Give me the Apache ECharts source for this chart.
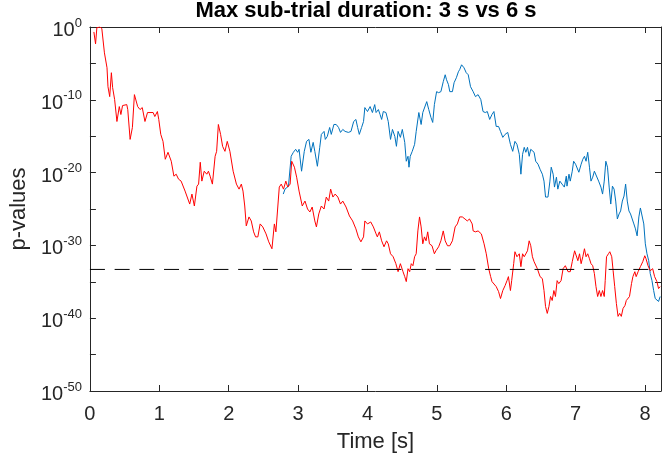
<!DOCTYPE html>
<html><head><meta charset="utf-8">
<script src="https://cdn.jsdelivr.net/npm/echarts@6/dist/echarts.min.js"></script>
<style>html,body{margin:0;padding:0;background:#fff}#c{width:664px;height:458px}</style>
</head><body><div id="c"></div>
<script>
// Red series (3 s): time [s] and log10(p)
const redT = [0.057,0.081,0.100,0.142,0.171,0.209,0.246,0.260,0.285,0.309,0.327,0.356,0.389,0.423,0.446,0.470,0.531,0.545,0.579,0.612,0.641,0.688,0.722,0.754,0.793,0.830,0.911,0.935,0.972,0.992,1.021,1.053,1.086,1.125,1.172,1.210,1.243,1.277,1.314,1.371,1.399,1.438,1.470,1.505,1.542,1.566,1.590,1.613,1.647,1.684,1.708,1.732,1.765,1.804,1.826,1.851,1.883,1.912,1.946,1.979,2.017,2.064,2.111,2.149,2.182,2.206,2.231,2.253,2.292,2.325,2.359,2.387,2.420,2.453,2.491,2.515,2.538,2.577,2.595,2.623,2.658,2.680,2.729,2.757,2.790,2.823,2.851,2.885,2.908,2.947,2.979,3.014,3.060,3.099,3.136,3.170,3.203,3.241,3.264,3.298,3.335,3.374,3.406,3.441,3.469,3.502,3.534,3.573,3.611,3.644,3.691,3.740,3.786,3.833,3.868,3.905,3.943,3.962,4.000,4.047,4.085,4.124,4.142,4.171,4.204,4.238,4.275,4.299,4.332,4.370,4.409,4.441,4.474,4.512,4.537,4.559,4.584,4.608,4.631,4.655,4.679,4.702,4.726,4.750,4.773,4.797,4.821,4.844,4.868,4.893,4.930,4.964,4.986,5.025,5.058,5.092,5.120,5.153,5.186,5.224,5.263,5.295,5.328,5.367,5.405,5.438,5.470,5.509,5.523,5.556,5.594,5.641,5.680,5.712,5.747,5.775,5.794,5.822,5.855,5.889,5.917,5.950,5.983,6.011,6.031,6.060,6.078,6.107,6.125,6.154,6.188,6.211,6.235,6.259,6.282,6.306,6.330,6.353,6.377,6.401,6.424,6.448,6.487,6.520,6.544,6.566,6.591,6.615,6.638,6.662,6.686,6.709,6.733,6.757,6.790,6.819,6.851,6.890,6.922,6.951,6.985,7.008,7.032,7.056,7.079,7.103,7.127,7.150,7.174,7.199,7.221,7.246,7.270,7.293,7.317,7.341,7.364,7.388,7.412,7.426,7.445,7.473,7.492,7.520,7.540,7.563,7.587,7.611,7.634,7.658,7.683,7.711,7.730,7.758,7.776,7.805,7.825,7.853,7.872,7.900,7.933,7.967,7.996,8.014,8.043,8.075,8.110,8.138,8.171,8.195,8.218];
const redE = [-0.68,-2.32,-0.10,0,-0.2,-3.55,-5.60,-8.20,-9.56,-6.28,-8.33,-9.97,-12.98,-10.93,-12.02,-10.79,-10.66,-11.34,-15.44,-13.80,-9.29,-10.93,-11.34,-11.07,-12.98,-11.75,-11.75,-12.30,-11.61,-12.70,-14.75,-15.71,-18.17,-17.21,-18.44,-20.49,-20.22,-20.90,-21.17,-22.54,-22.68,-24.32,-22.95,-24.59,-21.86,-21.58,-18.58,-21.17,-19.81,-20.22,-19.81,-20.49,-21.58,-17.76,-17.08,-13.39,-14.75,-16.39,-17.08,-15.71,-17.08,-19.81,-21.58,-22.27,-21.58,-22.54,-24.59,-27.32,-26.09,-26.64,-28.14,-28.83,-28.83,-27.05,-27.46,-27.32,-28.42,-29.51,-29.78,-30.46,-27.05,-28.14,-21.99,-21.58,-22.27,-21.17,-21.99,-21.58,-18.44,-19.26,-20.63,-22.54,-24.59,-23.91,-25.00,-25.41,-24.73,-26.64,-27.46,-25.68,-24.59,-25.00,-23.36,-23.91,-22.27,-23.36,-22.95,-23.36,-24.32,-23.91,-24.73,-25.96,-26.64,-27.73,-28.83,-29.51,-28.83,-26.64,-27.05,-26.78,-27.46,-28.42,-28.83,-28.14,-29.37,-30.19,-29.37,-29.78,-31.15,-31.56,-32.51,-33.61,-32.51,-33.61,-34.29,-34.97,-33.20,-33.61,-32.51,-32.79,-31.56,-31.15,-28.01,-26.09,-27.46,-29.78,-28.83,-29.37,-28.14,-29.78,-30.05,-31.15,-30.74,-30.19,-29.37,-28.01,-29.37,-30.05,-30.05,-29.37,-27.46,-27.05,-26.09,-26.09,-26.37,-26.64,-26.37,-27.05,-28.01,-28.14,-28.01,-28.42,-29.78,-31.15,-33.20,-34.29,-34.97,-34.84,-35.66,-36.34,-37.30,-36.20,-35.52,-34.84,-34.29,-36.20,-34.84,-32.51,-30.87,-31.56,-31.15,-32.92,-31.15,-31.56,-31.56,-30.74,-29.37,-30.05,-31.56,-32.24,-32.24,-33.20,-34.29,-34.56,-36.20,-38.39,-39.34,-38.39,-37.02,-37.57,-36.20,-37.02,-34.84,-35.25,-34.84,-33.20,-32.79,-33.61,-33.61,-32.24,-30.74,-30.87,-32.10,-31.15,-32.51,-31.56,-30.46,-31.56,-31.15,-31.83,-32.51,-32.79,-33.88,-35.66,-37.02,-36.20,-37.02,-36.20,-37.02,-34.84,-31.56,-31.15,-30.87,-31.56,-33.47,-35.66,-37.98,-39.75,-39.34,-39.75,-38.66,-38.25,-37.57,-37.30,-37.02,-35.25,-34.29,-33.61,-34.29,-33.61,-32.92,-32.24,-31.42,-31.83,-32.79,-33.47,-33.20,-34.29,-34.97,-35.93,-35.66];
// Blue series (6 s)
const blueT = [2.786,2.811,2.833,2.861,2.900,2.932,2.965,2.994,3.014,3.050,3.089,3.122,3.156,3.184,3.217,3.241,3.278,3.312,3.335,3.374,3.392,3.421,3.455,3.478,3.516,3.549,3.583,3.611,3.644,3.677,3.725,3.762,3.801,3.833,3.858,3.882,3.915,3.943,3.962,4.000,4.038,4.071,4.104,4.124,4.157,4.181,4.204,4.228,4.266,4.299,4.332,4.360,4.394,4.417,4.441,4.474,4.502,4.537,4.559,4.584,4.598,4.616,4.645,4.679,4.702,4.740,4.773,4.797,4.821,4.854,4.883,4.915,4.940,4.964,4.996,5.025,5.058,5.092,5.120,5.139,5.167,5.186,5.224,5.248,5.281,5.310,5.328,5.356,5.391,5.423,5.452,5.485,5.523,5.556,5.594,5.633,5.665,5.698,5.727,5.761,5.794,5.822,5.855,5.889,5.917,5.950,5.983,6.021,6.060,6.093,6.125,6.154,6.188,6.211,6.235,6.259,6.282,6.306,6.330,6.353,6.377,6.401,6.424,6.458,6.487,6.520,6.544,6.566,6.601,6.629,6.648,6.676,6.695,6.723,6.743,6.772,6.804,6.837,6.865,6.875,6.904,6.922,6.951,6.971,6.999,7.018,7.046,7.079,7.103,7.127,7.150,7.174,7.199,7.221,7.246,7.270,7.293,7.331,7.364,7.388,7.412,7.435,7.459,7.483,7.506,7.530,7.554,7.577,7.601,7.626,7.648,7.673,7.697,7.720,7.744,7.768,7.791,7.815,7.839,7.862,7.886,7.911,7.933,7.957,7.982,8.004,8.028,8.053,8.075,8.100,8.124,8.147,8.171,8.195,8.218];
const blueE = [-22.95,-22.27,-22.54,-21.86,-17.76,-17.21,-16.80,-17.21,-16.80,-19.81,-17.08,-15.71,-15.44,-17.21,-15.85,-17.08,-19.13,-16.53,-14.75,-14.34,-15.44,-15.03,-13.80,-14.75,-13.39,-13.39,-13.80,-14.48,-14.07,-14.34,-14.48,-14.34,-12.98,-12.70,-13.80,-14.75,-13.80,-12.98,-11.07,-11.61,-10.93,-11.75,-10.66,-11.75,-11.34,-12.02,-12.70,-11.61,-11.75,-12.98,-15.44,-14.07,-15.03,-16.39,-14.34,-15.16,-14.07,-15.85,-18.44,-17.76,-19.26,-17.76,-17.08,-16.12,-14.34,-11.75,-13.39,-11.75,-12.02,-10.25,-11.34,-12.43,-13.11,-10.66,-8.88,-9.02,-8.88,-7.51,-6.56,-7.24,-7.92,-8.88,-8.88,-7.65,-6.97,-6.15,-5.87,-5.19,-5.60,-6.28,-6.56,-8.20,-8.88,-9.56,-9.29,-9.97,-11.61,-11.75,-11.61,-12.70,-12.02,-11.61,-13.66,-13.66,-14.34,-15.16,-14.75,-14.48,-16.12,-17.08,-15.71,-16.12,-17.49,-20.22,-17.49,-16.53,-17.21,-16.53,-17.76,-16.80,-16.53,-17.21,-18.44,-18.85,-19.54,-20.22,-21.17,-23.36,-23.36,-21.17,-19.26,-20.22,-21.99,-20.63,-22.27,-21.17,-21.58,-21.99,-20.49,-21.86,-20.22,-21.17,-19.81,-18.44,-18.85,-18.85,-19.95,-18.85,-18.17,-17.76,-18.44,-17.21,-19.26,-21.17,-20.63,-19.81,-19.95,-21.17,-21.99,-22.95,-21.17,-18.44,-19.26,-21.99,-24.32,-21.86,-22.27,-23.91,-26.37,-25.68,-25.27,-23.91,-23.22,-21.58,-23.91,-25.27,-25.68,-26.37,-27.05,-27.73,-28.69,-26.09,-24.86,-25.00,-27.05,-29.78,-31.15,-32.10,-33.88,-34.84,-36.20,-37.30,-37.57,-37.70,-37.02];
// Threshold (log10 p)
const thresholdE = -33.3;
const xRange = [0, 8.23];
const yRange = [-50, 0];
const xTickLabels = [0,1,2,3,4,5,6,7,8];
const yTickLabels = [-50,-40,-30,-20,-10,0];

const FONT = '"Liberation Sans", Arial, Helvetica, sans-serif';
const AX = '#262626';
function zip(a, b) { const n = Math.min(a.length, b.length); const r = []; for (let i = 0; i < n; i++) r.push([a[i], b[i]]); return r; }

const chart = echarts.init(document.getElementById('c'), null, {renderer: 'canvas'});
const xBase = {
  type: 'value', min: xRange[0], max: xRange[1], interval: 1,
  axisLine: {show: true, onZero: false, lineStyle: {color: AX, width: 1}},
  axisTick: {show: true, inside: true, length: 6, lineStyle: {color: AX}},
  splitLine: {show: false}
};
const yBase = {
  type: 'value', min: yRange[0], max: yRange[1], interval: 5,
  axisLine: {show: true, onZero: false, lineStyle: {color: AX, width: 1}},
  axisTick: {show: true, inside: true, length: 6, lineStyle: {color: AX}},
  splitLine: {show: false}
};
chart.setOption({
  animation: false,
  backgroundColor: '#fff',
  title: {
    text: 'Max sub-trial duration: 3 s vs 6 s',
    left: 366, top: 0, padding: 0, textAlign: 'center',
    textStyle: {fontFamily: FONT, fontWeight: 'bold', fontSize: 22, color: '#000'}
  },
  grid: {left: 85, right: 1, top: 27, bottom: 65, containLabel: false},
  xAxis: [
    Object.assign({}, xBase, {
      position: 'bottom',
      name: 'Time [s]', nameLocation: 'middle', nameGap: 40,
      nameTextStyle: {fontFamily: FONT, fontSize: 22, color: AX},
      axisLabel: {
        show: true, margin: 13, fontFamily: FONT, fontSize: 20, color: AX,
        formatter: v => xTickLabels.indexOf(v) >= 0 ? String(v) : ''
      }
    }),
    Object.assign({}, xBase, {position: 'top', axisLabel: {show: false}})
  ],
  yAxis: [
    Object.assign({}, yBase, {
      position: 'left',
      name: 'p-values', nameLocation: 'middle', nameGap: 58,
      nameTextStyle: {fontFamily: FONT, fontSize: 22, color: AX},
      axisLabel: {
        show: true, margin: 8, fontFamily: FONT, color: AX,
        formatter: v => yTickLabels.indexOf(v) >= 0 ? '{b|10}{s|' + v + '}' : '',
        rich: {
          b: {fontFamily: FONT, fontSize: 20, color: AX, lineHeight: 27, verticalAlign: 'bottom'},
          s: {fontFamily: FONT, fontSize: 13, color: AX, verticalAlign: 'top', padding: [3, 0, 0, 0]}
        }
      }
    }),
    Object.assign({}, yBase, {position: 'right', axisLabel: {show: false}})
  ],
  series: [
    {
      type: 'line', name: '6 s', xAxisIndex: 0, yAxisIndex: 0,
      data: zip(blueT, blueE), showSymbol: false, symbol: 'none',
      lineStyle: {color: '#0072bd', width: 1}, z: 3
    },
    {
      type: 'line', name: '3 s', xAxisIndex: 0, yAxisIndex: 0,
      data: zip(redT, redE), showSymbol: false, symbol: 'none',
      lineStyle: {color: '#ff0000', width: 1}, z: 4
    },
    {
      type: 'line', name: 'threshold', xAxisIndex: 0, yAxisIndex: 0,
      data: [[xRange[0], thresholdE], [xRange[1], thresholdE]],
      showSymbol: false, symbol: 'none',
      lineStyle: {color: '#000', width: 1, type: [15, 9.7]}, z: 5
    }
  ]
});
</script></body></html>
